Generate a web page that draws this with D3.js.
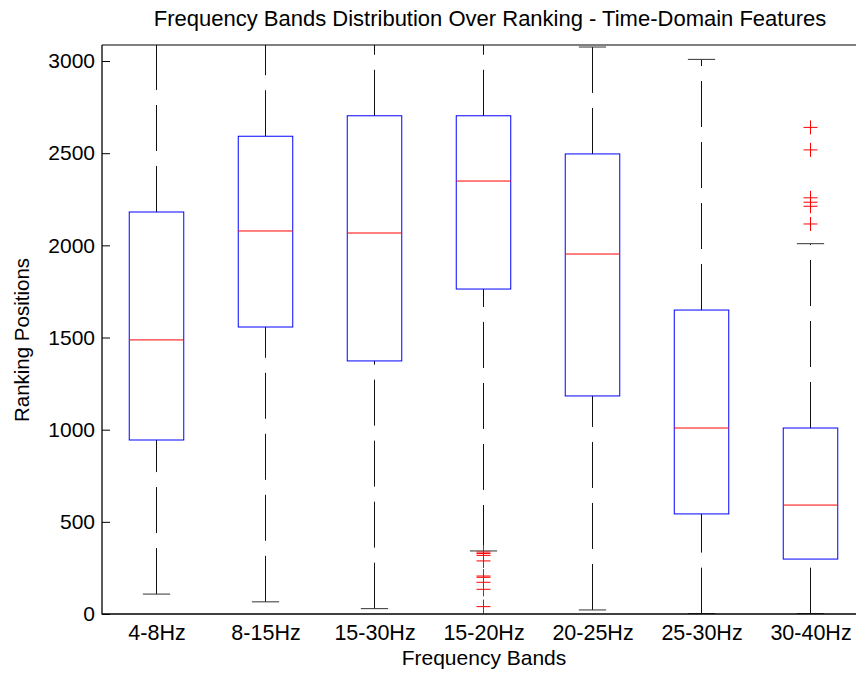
<!DOCTYPE html>
<html>
<head>
<meta charset="utf-8">
<script src="https://cdn.jsdelivr.net/npm/d3@7"></script>
<style>
  html, body { margin: 0; padding: 0; background: #fff; }
  svg { display: block; font-family: "Liberation Sans", Arial, sans-serif; }
</style>
</head>
<body>
<svg id="chart" width="856" height="673"></svg>
<script>
// Frequency bands (one box per band)
const bands = ["4-8Hz", "8-15Hz", "15-30Hz", "15-20Hz", "20-25Hz", "25-30Hz", "30-40Hz"];

// Box statistics per band (ranking positions)
const lowerWhisker = [108, 66, 29, 342, 22, 2, 2];
const q1           = [944, 1557, 1373, 1763, 1183, 543, 298];
const median       = [1487, 2078, 2067, 2349, 1953, 1009, 591];
const q3           = [2181, 2592, 2703, 2703, 2496, 1649, 1009];
const upperWhisker = [3110, 3110, 3110, 3110, 3076, 3009, 2009];

// Outliers per band
const outliers = [
  [],
  [],
  [],
  [336, 328, 318, 288, 206, 199, 172, 134, 40],
  [],
  [],
  [2640, 2518, 2258, 2234, 2212, 2116]
];

const yTicks = [0, 500, 1000, 1500, 2000, 2500, 3000];

const svg = d3.select("#chart");
const margin = { left: 102, top: 45, bottom: 614, right: 865 };

const x = d3.scaleLinear().domain([0.5, bands.length + 0.5]).range([margin.left, margin.right]);
const y = d3.scaleLinear().domain([0, 3087]).range([margin.bottom, margin.top]);

svg.append("defs").append("clipPath").attr("id", "plotClip")
  .append("rect")
  .attr("x", margin.left).attr("y", margin.top)
  .attr("width", margin.right - margin.left).attr("height", margin.bottom - margin.top);

const plot = svg.append("g").attr("clip-path", "url(#plotClip)");

const boxHalf = 0.25;
const capHalf = 0.125;

bands.forEach((b, i) => {
  const cx = x(i + 1);
  const g = plot.append("g");
  // whiskers: dashed, drawn bottom-to-top
  const dash = "46,15";
  g.append("line")
    .attr("x1", cx).attr("x2", cx)
    .attr("y1", y(q3[i])).attr("y2", y(upperWhisker[i]))
    .attr("stroke", "#111").attr("stroke-width", 1)
    .attr("stroke-dasharray", dash);
  g.append("line")
    .attr("x1", cx).attr("x2", cx)
    .attr("y1", y(lowerWhisker[i])).attr("y2", y(q1[i]))
    .attr("stroke", "#111").attr("stroke-width", 1)
    .attr("stroke-dasharray", dash);
  // caps
  [upperWhisker[i], lowerWhisker[i]].forEach(v => {
    g.append("line")
      .attr("x1", x(i + 1 - capHalf)).attr("x2", x(i + 1 + capHalf))
      .attr("y1", y(v)).attr("y2", y(v))
      .attr("stroke", "#333").attr("stroke-width", 1);
  });
  // box
  g.append("rect")
    .attr("x", x(i + 1 - boxHalf)).attr("width", x(i + 1 + boxHalf) - x(i + 1 - boxHalf))
    .attr("y", y(q3[i])).attr("height", y(q1[i]) - y(q3[i]))
    .attr("fill", "none").attr("stroke", "#0000ff").attr("stroke-width", 1);
  // median
  g.append("line")
    .attr("x1", x(i + 1 - boxHalf)).attr("x2", x(i + 1 + boxHalf))
    .attr("y1", y(median[i])).attr("y2", y(median[i]))
    .attr("stroke", "#ff0000").attr("stroke-width", 1);
  // outliers as "+"
  outliers[i].forEach(v => {
    const py = y(v);
    g.append("path")
      .attr("d", `M${cx - 7},${py}H${cx + 7}M${cx},${py - 7}V${py + 7}`)
      .attr("stroke", "#ff0000").attr("stroke-width", 1).attr("fill", "none");
  });
});

// axes frame
const axisColor = "#000";
svg.append("line").attr("x1", margin.left).attr("x2", margin.left)
  .attr("y1", margin.top).attr("y2", margin.bottom + 0.5)
  .attr("stroke", axisColor).attr("stroke-width", 1.3);
svg.append("line").attr("x1", margin.left).attr("x2", 856)
  .attr("y1", margin.bottom).attr("y2", margin.bottom)
  .attr("stroke", axisColor).attr("stroke-width", 1.3);
svg.append("line").attr("x1", margin.left).attr("x2", 856)
  .attr("y1", margin.top).attr("y2", margin.top)
  .attr("stroke", axisColor).attr("stroke-width", 1);

// y axis ticks (inward) and labels
const yAxis = d3.axisLeft(y).tickValues(yTicks).tickFormat(d3.format("d"))
  .tickSizeInner(-8).tickSizeOuter(0).tickPadding(7);
const yg = svg.append("g").attr("transform", `translate(${margin.left},0)`).call(yAxis);
yg.select(".domain").remove();
yg.selectAll(".tick line").attr("stroke", "#000");
yg.selectAll(".tick text").attr("font-size", 21).attr("fill", "#000")
  .attr("font-family", "Liberation Sans, Arial, sans-serif");

// x axis labels
const xAxis = d3.axisBottom(x).tickValues(d3.range(1, bands.length + 1))
  .tickFormat(d => bands[d - 1]).tickSize(0).tickPadding(11);
const xg = svg.append("g").attr("transform", `translate(0,${margin.bottom})`).call(xAxis);
xg.select(".domain").remove();
xg.selectAll(".tick text").attr("font-size", 21.5).attr("fill", "#000")
  .attr("font-family", "Liberation Sans, Arial, sans-serif");

// titles
svg.append("text").attr("x", 490).attr("y", 26).attr("text-anchor", "middle")
  .attr("font-size", 22).text("Frequency Bands Distribution Over Ranking - Time-Domain Features");
svg.append("text").attr("x", 484).attr("y", 665).attr("text-anchor", "middle")
  .attr("font-size", 21).text("Frequency Bands");
svg.append("text").attr("transform", "translate(29,340) rotate(-90)").attr("text-anchor", "middle")
  .attr("font-size", 20.5).text("Ranking Positions");
</script>
</body>
</html>
